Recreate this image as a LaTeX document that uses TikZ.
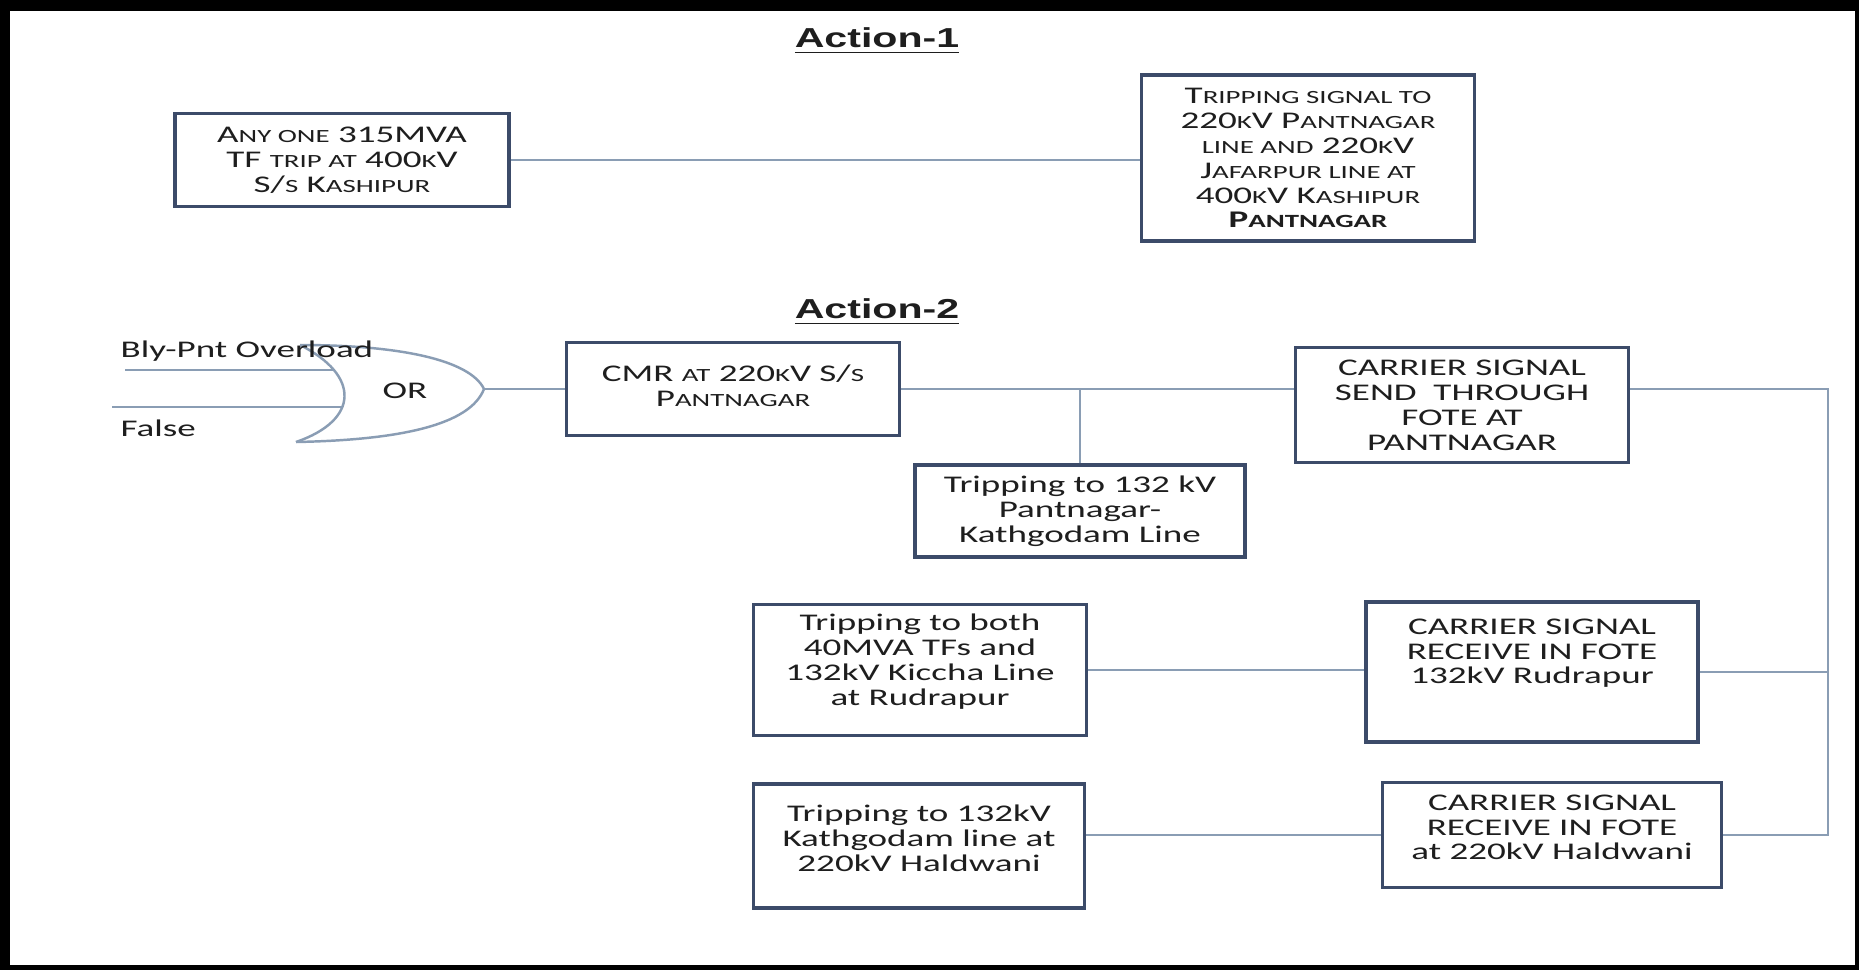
\documentclass[tikz,border=0pt]{standalone}
\usepackage{fontspec}
\newfontfamily\boxfont[FakeStretch=1.55]{Carlito}
\newfontfamily\headfont[FakeStretch=1.5]{Liberation Sans}
\definecolor{boxline}{HTML}{3C4B69}
\definecolor{linkgray}{HTML}{8A9DB4}
\definecolor{ink}{HTML}{1E1E1E}
% word-style small caps
\newcommand{\lc}[1]{{\fontsize{5.3}{7.1}\selectfont #1}}
\begin{document}
\begin{tikzpicture}[
  blk/.style={draw=boxline,line width=1pt,fill=white,text=ink,align=center,inner sep=0pt,
    font=\boxfont\fontsize{6.8}{7.1}\selectfont},
  link/.style={draw=linkgray,line width=0.7pt},
  head/.style={text=ink,font=\headfont\bfseries\fontsize{7.8}{9}\selectfont},
  lbl/.style={text=ink,font=\boxfont\fontsize{6.8}{7.1}\selectfont}]
\useasboundingbox (0,0) rectangle (18.59,-9.70);
\fill[black] (0,0) rectangle (18.59,-9.70);
\fill[white] (0.10,-0.11) rectangle (18.55,-9.65);
% Action-1
\node[head] (act1) at (8.77,-0.41) {\underline{Action-1}};
\node[blk,minimum width=3.34cm,minimum height=0.93cm] (A1L) at (3.42,-1.60)
  {A\lc{NY ONE} 315MVA\\TF \lc{TRIP AT} 400\lc{K}V\\S/\lc{S} K\lc{ASHIPUR}};
\node[blk,minimum width=3.33cm,minimum height=1.66cm] (A1R) at (13.08,-1.58)
  {T\lc{RIPPING SIGNAL TO}\\220\lc{K}V P\lc{ANTNAGAR}\\\lc{LINE AND} 220\lc{K}V\\
   J\lc{AFARPUR LINE AT}\\400\lc{K}V K\lc{ASHIPUR}\\{\bfseries P\lc{ANTNAGAR}}};
\draw[link] (A1L.east) -- (A1L.east -| A1R.west);
% Action-2
\node[head] (act2) at (8.77,-3.12) {\underline{Action-2}};
\coordinate[] (gtop) at (3.00,-3.45);
\coordinate[] (gbot) at (2.96,-4.42);
\coordinate[] (orout) at (4.84,-3.89);
\coordinate[] (inA) at (1.25,-3.70);
\coordinate[] (inAend) at (3.34,-3.70);
\coordinate[] (inB) at (1.12,-4.07);
\coordinate[] (inBend) at (3.42,-4.07);
\draw[link] (gtop) .. controls (3.60,-3.75) and (3.60,-4.20) .. (gbot);
\draw[link] (gtop) .. controls (4.00,-3.45) and (4.70,-3.60) .. (orout)
  .. controls (4.70,-4.25) and (4.00,-4.40) .. (gbot);
\draw[link] (inA) -- (inAend);
\draw[link] (inB) -- (inBend);
\node[lbl] (orl) at (4.05,-3.91) {OR};
\node[lbl,anchor=west,inner sep=0pt] (bly) at (1.20,-3.51) {Bly-Pnt Overload};
\node[lbl,anchor=west,inner sep=0pt] (fls) at (1.20,-4.28) {False};
\node[blk,minimum width=3.33cm,minimum height=0.93cm] (CMR) at (7.33,-3.89)
  {CMR \lc{AT} 220\lc{K}V S/\lc{S}\\P\lc{ANTNAGAR}\\[-5.1pt]\mbox{}};
\node[blk,minimum width=3.30cm,minimum height=0.92cm] (Trip132) at (10.80,-5.11)
  {Tripping to 132 kV\\Pantnagar-\\Kathgodam Line};
\node[blk,minimum width=3.33cm,minimum height=1.15cm] (CarrSend) at (14.62,-4.05)
  {CARRIER SIGNAL\\SEND\ \ THROUGH\\FOTE AT\\PANTNAGAR};
\node[blk,minimum width=3.33cm,minimum height=1.31cm] (TripRud) at (9.20,-6.70)
  {Tripping to both\\40MVA TFs and\\132kV Kiccha Line\\at Rudrapur\\[-1.3pt]\mbox{}};
\node[blk,minimum width=3.32cm,minimum height=1.40cm] (CarrRud) at (15.32,-6.72)
  {CARRIER SIGNAL\\RECEIVE IN FOTE\\132kV Rudrapur\\[4.7pt]\mbox{}};
\node[blk,minimum width=3.31cm,minimum height=1.24cm] (TripHal) at (9.19,-8.46)
  {Tripping to 132kV\\Kathgodam line at\\220kV Haldwani\\[-2.7pt]\mbox{}};
\node[blk,minimum width=3.39cm,minimum height=1.05cm] (CarrHal) at (15.52,-8.35)
  {CARRIER SIGNAL\\RECEIVE IN FOTE\\at 220kV Haldwani\\[-2.7pt]\mbox{}};
\coordinate[] (bus) at (18.28,-3.89);
\draw[link] (orout) -- (CMR.west);
\draw[link] (CMR.east) -- (CMR.east -| CarrSend.west);
\draw[link] (Trip132.north) -- (Trip132.north |- CMR.east);
\draw[link] (CarrSend.east |- CMR.east) -- (bus) -- (bus |- CarrHal.east) -- (CarrHal.east);
\draw[link] (CarrRud.east) -- (CarrRud.east -| bus);
\draw[link] (TripRud.east) -- (TripRud.east -| CarrRud.west);
\draw[link] (CarrHal.west) -- (CarrHal.west -| TripHal.east);
\end{tikzpicture}
\end{document}
